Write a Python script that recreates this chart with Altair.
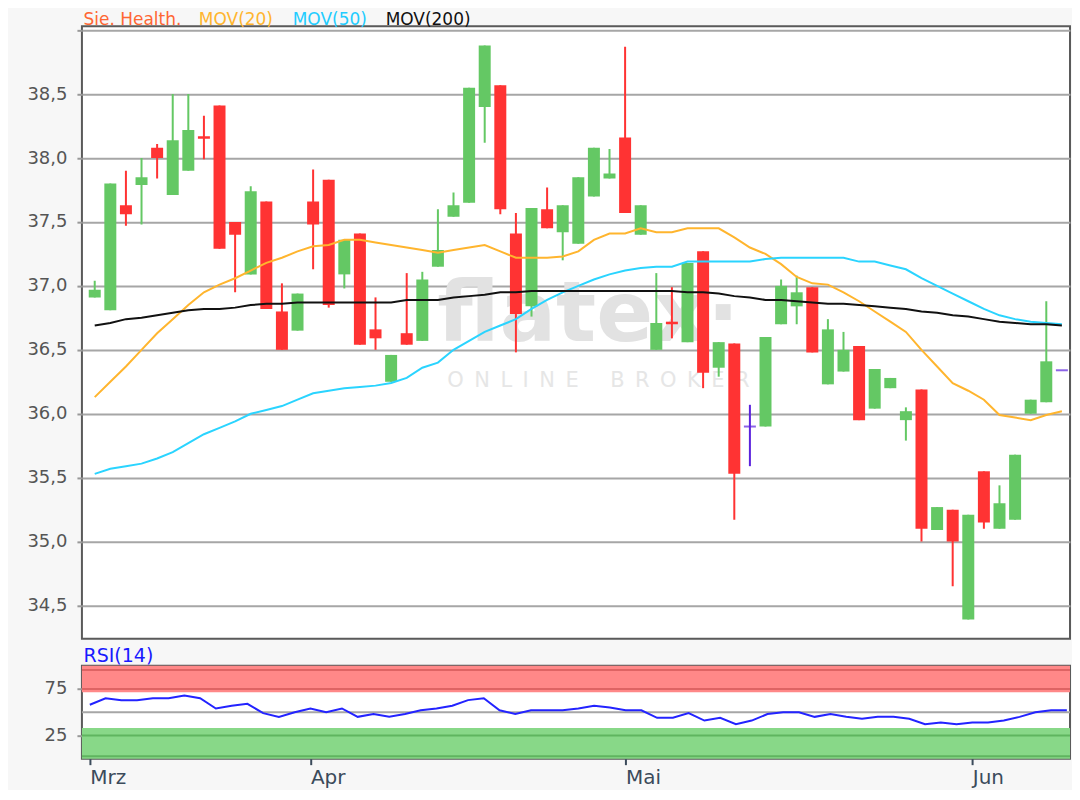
import altair as alt
import pandas as pd

# ---------------- data ----------------
opens = [36.91, 36.81, 37.63, 37.79, 38.08, 37.71, 37.90, 38.17, 38.41, 37.50,
         37.09, 37.66, 36.80, 36.65, 37.66, 37.83, 37.09, 37.41, 36.66, 36.25,
         36.63, 36.57, 37.15, 37.54, 37.65, 38.40, 38.57, 37.41, 36.84, 37.60,
         37.42, 37.33, 37.70, 37.84, 38.16, 37.40, 36.50, 36.72, 36.56, 37.27,
         36.36, 36.55, 35.90, 35.90, 36.70, 36.84, 36.99, 36.23, 36.33, 36.53,
         36.04, 36.20, 35.95, 36.19, 35.09, 35.25, 34.39, 35.55, 35.10, 35.17,
         36.00, 36.09, 36.34]
highs = [37.04, 37.80, 37.90, 38.00, 38.11, 38.50, 38.50, 38.33, 38.41, 37.50,
         37.78, 37.66, 37.02, 36.94, 37.91, 37.83, 37.36, 37.41, 36.91, 36.46,
         37.10, 37.11, 37.60, 37.73, 38.55, 38.88, 38.57, 37.57, 37.61, 37.77,
         37.63, 37.85, 38.08, 38.07, 38.87, 37.63, 37.10, 36.99, 37.18, 37.27,
         36.56, 36.55, 36.07, 36.60, 37.05, 37.08, 36.99, 36.74, 36.64, 36.53,
         36.35, 36.28, 36.05, 36.19, 35.27, 35.25, 35.21, 35.55, 35.44, 35.68,
         36.11, 36.88, 36.34]
lows = [36.91, 36.81, 37.47, 37.48, 37.84, 37.71, 37.90, 37.99, 37.29, 36.95,
        37.09, 36.82, 36.50, 36.65, 37.13, 36.83, 36.98, 36.54, 36.50, 36.25,
        36.54, 36.57, 37.15, 37.54, 37.65, 38.12, 37.56, 36.48, 36.76, 37.45,
        37.20, 37.33, 37.70, 37.84, 37.57, 37.40, 36.50, 36.59, 36.56, 36.20,
        36.29, 35.17, 35.59, 35.90, 36.70, 36.70, 36.48, 36.23, 36.33, 35.95,
        36.04, 36.20, 35.79, 35.00, 35.09, 34.65, 34.39, 35.10, 35.10, 35.17,
        36.00, 36.09, 36.34]
closes = [36.97, 37.80, 37.56, 37.85, 38.00, 38.14, 38.22, 38.15, 37.29, 37.40,
          37.74, 36.82, 36.50, 36.94, 37.48, 36.85, 37.36, 36.54, 36.59, 36.46,
          36.54, 37.05, 37.28, 37.63, 38.55, 38.88, 37.60, 36.78, 37.61, 37.45,
          37.63, 37.85, 38.08, 37.88, 37.57, 37.63, 36.71, 36.70, 37.18, 36.32,
          36.56, 35.53, 35.90, 36.60, 37.00, 36.95, 36.48, 36.66, 36.50, 35.95,
          36.35, 36.28, 36.02, 35.10, 35.27, 35.00, 35.21, 35.15, 35.30, 35.68,
          36.11, 36.41, 36.34]
mov20 = [36.13, 36.25, 36.37, 36.50, 36.63, 36.74, 36.85, 36.95, 37.01, 37.06,
         37.12, 37.18, 37.22, 37.27, 37.31, 37.32, 37.36, 37.36, 37.34, 37.32,
         37.30, 37.28, 37.26, 37.28, 37.30, 37.32, 37.27, 37.22, 37.22, 37.22,
         37.23, 37.27, 37.36, 37.41, 37.41, 37.45, 37.42, 37.42, 37.45, 37.45,
         37.45, 37.38, 37.30, 37.25, 37.17, 37.07, 37.02, 37.01, 36.95, 36.88,
         36.80, 36.72, 36.64, 36.50, 36.37, 36.24, 36.18, 36.11, 35.99, 35.97,
         35.95, 35.99, 36.02]
mov50 = [35.53, 35.57, 35.59, 35.61, 35.65, 35.70, 35.77, 35.84, 35.89, 35.94,
         36.00, 36.03, 36.06, 36.11, 36.16, 36.18, 36.20, 36.21, 36.22, 36.24,
         36.28, 36.36, 36.40, 36.50, 36.57, 36.64, 36.69, 36.74, 36.82, 36.89,
         36.95, 37.00, 37.05, 37.09, 37.12, 37.14, 37.15, 37.15, 37.19, 37.19,
         37.19, 37.19, 37.19, 37.21, 37.22, 37.22, 37.22, 37.22, 37.22, 37.19,
         37.19, 37.16, 37.13, 37.06, 37.00, 36.94, 36.88, 36.82, 36.77, 36.74,
         36.72, 36.71, 36.70]
mov200 = [36.69, 36.71, 36.74, 36.75, 36.77, 36.79, 36.81, 36.82, 36.82, 36.83,
          36.85, 36.86, 36.86, 36.87, 36.87, 36.87, 36.87, 36.87, 36.87, 36.87,
          36.89, 36.89, 36.89, 36.91, 36.92, 36.93, 36.95, 36.95, 36.96, 36.96,
          36.96, 36.96, 36.96, 36.96, 36.96, 36.96, 36.96, 36.96, 36.95, 36.95,
          36.94, 36.92, 36.91, 36.89, 36.89, 36.88, 36.87, 36.86, 36.86, 36.85,
          36.84, 36.83, 36.82, 36.80, 36.79, 36.77, 36.76, 36.74, 36.72, 36.71,
          36.70, 36.70, 36.69]
rsi14 = [58, 65, 63, 63, 65, 65, 68, 65, 54, 57,
         59, 49, 45, 50, 54, 50, 54, 45, 48, 45,
         48, 52, 54, 57, 63, 65, 52, 48, 52, 52,
         52, 54, 57, 55, 52, 52, 44, 44, 49, 41,
         44, 37, 41, 48, 50, 50, 45, 48, 45, 43,
         45, 45, 43, 37, 39, 37, 39, 39, 41, 45,
         50, 52, 52]
month_labels = ["Mrz", "Apr", "Mai", "Jun"]
month_start_idx = [0, 14, 34, 56]
price_ticks = [34.5, 35.0, 35.5, 36.0, 36.5, 37.0, 37.5, 38.0, 38.5, 39.0]
rsi_ticks = [25, 75]
title_parts = ["Sie. Health.", "MOV(20)", "MOV(50)", "MOV(200)"]
title_colors = ["#ff6633", "#ffb52e", "#22ccff", "#111111"]
title_x = [1.6, 117, 211, 304]

# ---------------- tables ----------------
idx = list(range(len(closes)))
dirs = ["up" if c > o else ("down" if c < o else "flat") for o, c in zip(opens, closes)]
candles = pd.DataFrame({"i": idx, "open": opens, "high": highs, "low": lows,
                        "close": closes, "dir": dirs})
ma = pd.DataFrame({"i": idx * 3,
                   "value": mov20 + mov50 + mov200,
                   "ma": ["MOV(20)"] * len(idx) + ["MOV(50)"] * len(idx) + ["MOV(200)"] * len(idx)})
rsi_df = pd.DataFrame({"i": idx, "rsi": rsi14})

W, H1, H2 = 989, 613, 93
FONT = "DejaVu Sans"
xdom = [-0.5, 62.2]
xscale = alt.Scale(domain=xdom, nice=False, zero=False)
yscale = alt.Scale(domain=[34.24, 39.03], nice=False, zero=False)
col_scale = alt.Scale(domain=["up", "down", "flat"], range=["#64c864", "#ff3333", "#5b22dd"])

price_axis = alt.Axis(values=price_ticks,
                      labelExpr="datum.value > 38.9 ? '' : replace(format(datum.value, '.1f'), '.', ',')",
                      labelFont=FONT, labelFontSize=18, labelColor="#555555",
                      tickColor="#999999", tickSize=5, tickWidth=2,
                      gridColor="#a6a6a6", gridWidth=2, domain=False,
                      labelPadding=10, minExtent=73, maxExtent=73, title=None)

base = alt.Chart(candles)

wm1 = alt.Chart(pd.DataFrame({"t": ["flatex\u00b7"]})).mark_text(
    font=FONT, fontWeight="bold", fontSize=84, color="#e2e2e2", align="left",
    baseline="alphabetic").encode(x=alt.value(355.7), y=alt.value(315), text="t:N")
wm2 = alt.Chart(pd.DataFrame({"t": ["O\u2002N\u2002L\u2002I\u2002N\u2002E\u2002\u2002\u2002B\u2002R\u2002O\u2002K\u2002E\u2002R"]})).mark_text(
    font=FONT, fontSize=21, color="#e6e6e6", align="left",
    baseline="alphabetic").encode(x=alt.value(365.7), y=alt.value(360.7), text="t:N")

wicks = base.mark_rule(strokeWidth=2, clip=True).encode(
    x=alt.X("i:Q", scale=xscale, axis=None),
    y=alt.Y("low:Q", scale=yscale, axis=price_axis),
    y2="high:Q",
    color=alt.Color("dir:N", scale=col_scale, legend=None))
bodies = base.transform_filter("datum.dir != 'flat'").mark_bar(size=12, clip=True).encode(
    x="i:Q", y="open:Q", y2="close:Q",
    color=alt.Color("dir:N", scale=col_scale, legend=None))
flats = base.transform_filter("datum.dir == 'flat'").mark_tick(
    orient="horizontal", size=12, thickness=2, clip=True).encode(
    x="i:Q", y="close:Q", color=alt.Color("dir:N", scale=col_scale, legend=None))

lines = alt.Chart(ma).mark_line(strokeWidth=2, interpolate="linear", clip=True).encode(
    x="i:Q", y="value:Q",
    color=alt.Color("ma:N", scale=alt.Scale(domain=["MOV(20)", "MOV(50)", "MOV(200)"],
                                            range=["#ffb52e", "#2ad4ff", "#111111"]), legend=None),
    detail="ma:N")

title_layers = []
for txt, colr, tx in zip(title_parts, title_colors, title_x):
    title_layers.append(
        alt.Chart(pd.DataFrame({"t": [txt]})).mark_text(
            font=FONT, fontSize=17, color=colr, align="left", baseline="alphabetic"
        ).encode(x=alt.value(tx), y=alt.value(-1), text="t:N"))

price = alt.layer(wm1, wm2, wicks, bodies, flats, lines, *title_layers).resolve_scale(
    color="independent").properties(width=W, height=H1)

# ---------------- RSI panel ----------------
month_expr = " : ".join(f"datum.value == {v} ? '{m}'" for v, m in zip(month_start_idx, month_labels)) + " : ''"
rsi_x_axis = alt.Axis(values=month_start_idx, labelExpr=month_expr, labelAlign="left",
                      labelFont=FONT, labelFontSize=20, labelColor="#3b4b5b",
                      tickColor="#3b4b5b", tickSize=6, tickWidth=2, labelPadding=3,
                      domain=False, grid=False, labelOverlap=False, labelFlush=False, title=None)
rsi_y_axis = alt.Axis(values=rsi_ticks, labelFont=FONT, labelFontSize=18, labelColor="#555555",
                      tickColor="#999999", tickSize=5, tickWidth=2, domain=False, grid=False,
                      labelPadding=10, minExtent=73, maxExtent=73, title=None)
rscale = alt.Scale(domain=[0, 100], nice=False, zero=False)

bands = pd.DataFrame({"lo": [71.5, 0], "hi": [100, 33], "band": ["ob", "os"]})
band_rect = alt.Chart(bands).mark_rect().encode(
    x=alt.value(0), x2=alt.value(W),
    y=alt.Y("lo:Q", scale=rscale, axis=rsi_y_axis), y2="hi:Q",
    color=alt.Color("band:N", scale=alt.Scale(domain=["ob", "os"], range=["#ff8888", "#88d888"]),
                    legend=None))
band_lines = pd.DataFrame({"v": [95.5, 75, 25, 2.5], "band": ["ob", "ob", "os", "os"]})
band_rule = alt.Chart(band_lines).mark_rule(strokeWidth=2).encode(
    y=alt.Y("v:Q", scale=rscale),
    color=alt.Color("band:N", scale=alt.Scale(domain=["ob", "os"], range=["#de6464", "#5fb55f"]),
                    legend=None))
mid_rule = alt.Chart(pd.DataFrame({"v": [50]})).mark_rule(strokeWidth=2, color="#a6a6a6").encode(
    y=alt.Y("v:Q", scale=rscale))
rsi_line = alt.Chart(rsi_df).mark_line(strokeWidth=2, color="#2323ff", clip=True).encode(
    x=alt.X("i:Q", scale=xscale, axis=rsi_x_axis), y=alt.Y("rsi:Q", scale=rscale))
rsi_title = alt.Chart(pd.DataFrame({"t": ["RSI(14)"]})).mark_text(
    font=FONT, fontSize=19, color="#1a1aff", align="left", baseline="alphabetic"
).encode(x=alt.value(1.6), y=alt.value(-3.5), text="t:N")

rsi = alt.layer(band_rect, band_rule, mid_rule, rsi_line, rsi_title).resolve_scale(
    color="independent").properties(width=W, height=H2)

chart = alt.vconcat(price, rsi, spacing=27, bounds="flush").properties(
    padding={"left": 0, "top": 2, "right": 0, "bottom": 1}
).configure(background="#f7f7f7").configure_view(
    stroke="#5a5a5a", strokeWidth=2, fill="white")

chart.save("out.html", embed_options={"renderer": "svg", "actions": False})
